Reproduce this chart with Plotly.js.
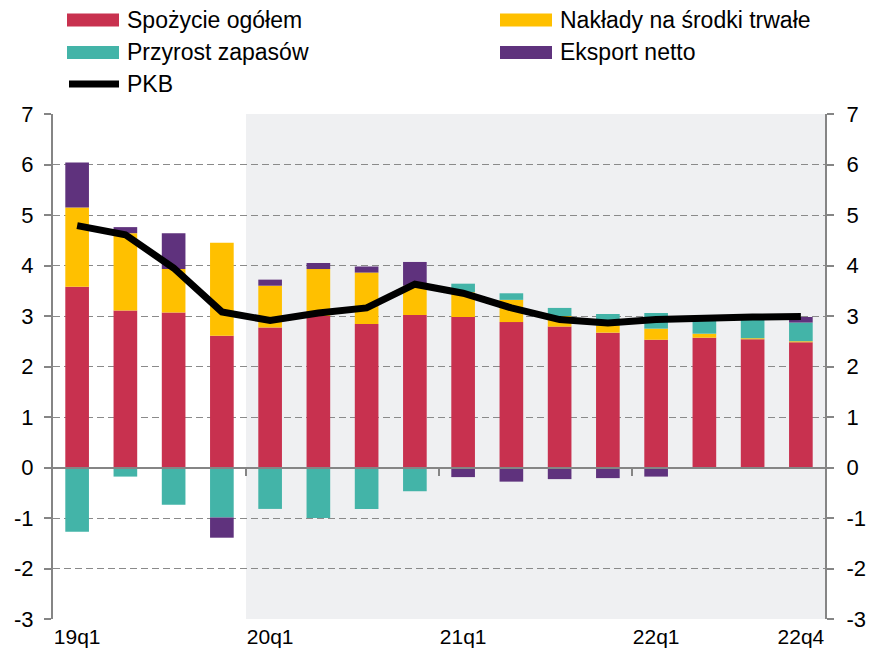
<!DOCTYPE html>
<html>
<head>
<meta charset="utf-8">
<script src="https://cdn.plot.ly/plotly-3.0.1.min.js"></script>
<style>html,body{margin:0;padding:0;background:#fff;}#chart{width:869px;height:651px;}</style>
</head>
<body>
<div id="chart"></div>
<script>
const categories = ['19q1','19q2','19q3','19q4','20q1','20q2','20q3','20q4','21q1','21q2','21q3','21q4','22q1','22q2','22q3','22q4'];
const tickLabels = ['19q1','20q1','21q1','22q1','22q4'];
const shadeStart = '20q1';
const yTicks = [-3, -2, -1, 0, 1, 2, 3, 4, 5, 6, 7];
const yTickText = ['-3', '-2', '-1', '0', '1', '2', '3', '4', '5', '6', '7'];

const seriesNames = ['Spożycie ogółem','Nakłady na środki trwałe','Przyrost zapasów','Eksport netto'];
const lineName = 'PKB';

const spozycie = [3.58, 3.11, 3.07, 2.61, 2.77, 3.00, 2.84, 3.02, 2.98, 2.88, 2.79, 2.67, 2.53, 2.57, 2.54, 2.48];
const naklady  = [1.57, 1.53, 0.86, 1.84, 0.83, 0.93, 1.02, 0.58, 0.49, 0.44, 0.21, 0.14, 0.22, 0.08, 0.02, 0.02];
const zapasy   = [-1.27, -0.18, -0.74, -0.99, -0.82, -1.00, -0.82, -0.47, 0.17, 0.13, 0.16, 0.23, 0.31, 0.32, 0.43, 0.37];
const eksport  = [0.89, 0.12, 0.71, -0.40, 0.12, 0.12, 0.12, 0.47, -0.19, -0.28, -0.23, -0.21, -0.18, 0.00, 0.00, 0.11];
const pkb      = [4.79, 4.61, 3.95, 3.08, 2.91, 3.06, 3.16, 3.63, 3.45, 3.16, 2.93, 2.86, 2.93, 2.97, 2.98, 2.99];

const colors = ['#c8314f', '#ffc000', '#43b4a8', '#5f327d'];
const FONT = 'Liberation Sans, Arial, sans-serif';
const GRAY = '#858585';

const W = 869, H = 651;
const M = {l: 53, r: 44, t: 114, b: 32};
const px2x = p => (p - M.l) / (W - M.l - M.r);
const px2y = p => (H - M.b - p) / (H - M.t - M.b);

const seriesVals = [spozycie, naklady, zapasy, eksport];
const traces = seriesVals.map((v, i) => ({
  type: 'bar', x: categories, y: v, name: seriesNames[i],
  marker: {color: colors[i], line: {width: 0}},
  showlegend: false, hoverinfo: 'x+y+name'
}));
traces.push({
  type: 'scatter', mode: 'lines', x: categories, y: pkb, name: lineName,
  line: {color: '#000', width: 7}, showlegend: false
});
// helper traces so the overlay axes render
traces.push({type: 'scatter', x: [], y: [], xaxis: 'x2', yaxis: 'y', showlegend: false, hoverinfo: 'skip'});
traces.push({type: 'scatter', x: [], y: [], xaxis: 'x', yaxis: 'y2', showlegend: false, hoverinfo: 'skip'});

const yRange = [-3, 7];
const boundaryTicks = tickLabels.slice(1, 4).map(c => categories.indexOf(c) - 0.5);

// custom legend
const shapes = [];
const annotations = [];
const legendItems = [
  {name: seriesNames[0], color: colors[0], x: 67, y: 20, kind: 'rect'},
  {name: seriesNames[1], color: colors[1], x: 500, y: 20, kind: 'rect'},
  {name: seriesNames[2], color: colors[2], x: 67, y: 52.5, kind: 'rect'},
  {name: seriesNames[3], color: colors[3], x: 500, y: 52.5, kind: 'rect'},
  {name: lineName, color: '#000', x: 67, y: 84, kind: 'line'}
];
legendItems.forEach(it => {
  if (it.kind === 'rect') {
    shapes.push({type: 'rect', xref: 'paper', yref: 'paper',
      x0: px2x(it.x), x1: px2x(it.x + 52), y0: px2y(it.y - 6.5), y1: px2y(it.y + 6.5),
      fillcolor: it.color, line: {width: 0}});
  } else {
    shapes.push({type: 'line', xref: 'paper', yref: 'paper',
      x0: px2x(it.x + 2), x1: px2x(it.x + 52), y0: px2y(it.y), y1: px2y(it.y),
      line: {color: it.color, width: 7}});
  }
  annotations.push({xref: 'paper', yref: 'paper', x: px2x(it.x + 58), y: px2y(it.y),
    xanchor: 'left', yanchor: 'middle', showarrow: false, text: it.name,
    font: {family: FONT, size: 23, color: '#000'}});
});

// shaded forecast region
shapes.push({type: 'rect', xref: 'x', yref: 'paper', layer: 'between',
  x0: categories.indexOf(shadeStart) - 0.5, x1: categories.length - 0.5, y0: 0, y1: 1,
  fillcolor: 'rgb(228,230,233)', opacity: 0.6, line: {width: 0}});

const layout = {
  width: W, height: H,
  margin: M,
  paper_bgcolor: '#fff', plot_bgcolor: '#fff',
  font: {family: FONT, size: 21, color: '#000'},
  barmode: 'relative', bargap: 0.51,
  showlegend: false,
  xaxis: {
    type: 'category', range: [-0.5, categories.length - 0.5],
    tickvals: tickLabels, ticktext: tickLabels, ticks: '',
    showgrid: false, zeroline: false, showline: false,
    tickfont: {family: FONT, size: 21, color: '#000'}, ticklabelstandoff: 3
  },
  xaxis2: {
    overlaying: 'x', anchor: 'free', position: (0 - yRange[0]) / (yRange[1] - yRange[0]),
    type: 'linear', range: [-0.5, categories.length - 0.5],
    showline: true, linecolor: GRAY, linewidth: 2,
    ticks: 'outside', ticklen: 7, tickwidth: 2, tickcolor: GRAY,
    tickvals: boundaryTicks, showticklabels: false, showgrid: false, zeroline: false
  },
  yaxis: {
    range: yRange, tickmode: 'array', tickvals: yTicks, ticktext: yTickText,
    showgrid: true, gridcolor: '#8a8a8a', gridwidth: 1, griddash: '7px,4px',
    zeroline: false, showline: true, linecolor: GRAY, linewidth: 2,
    ticks: 'outside', ticklen: 7, tickwidth: 2, tickcolor: GRAY,
    tickfont: {family: FONT, size: 22, color: '#000'}, ticklabelstandoff: 6
  },
  yaxis2: {
    overlaying: 'y', side: 'right', anchor: 'x',
    range: yRange, tickmode: 'array', tickvals: yTicks, ticktext: yTickText,
    showgrid: false, zeroline: false, showline: true, linecolor: GRAY, linewidth: 2,
    ticks: 'outside', ticklen: 7, tickwidth: 2, tickcolor: GRAY,
    tickfont: {family: FONT, size: 22, color: '#000'}, ticklabelstandoff: 8
  },
  shapes: shapes,
  annotations: annotations
};

Plotly.newPlot('chart', traces, layout, {displayModeBar: false, staticPlot: true});
</script>
</body>
</html>
